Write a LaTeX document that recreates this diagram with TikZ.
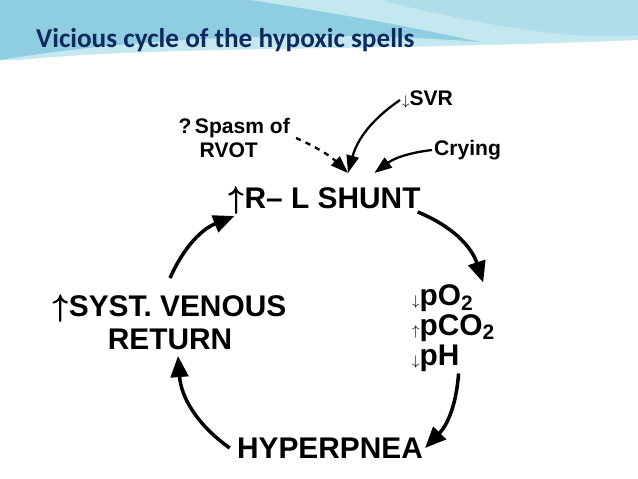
\documentclass[tikz,border=0pt]{standalone}
\usepackage{amsmath}
\usepackage{fontspec}
\setmainfont{Liberation Sans}
\newfontfamily\titlefont{Carlito}
\usetikzlibrary{arrows.meta}
\definecolor{navy}{HTML}{0D2A5C}
\definecolor{skyA}{HTML}{8FCDE0}
\definecolor{skyB}{HTML}{C4E8F0}
\begin{document}
\begin{tikzpicture}[x=0.02cm, y=-0.02cm,
    lbl/.style={font=\bfseries\fontsize{17}{19}\selectfont, align=center, inner sep=1pt},
    small/.style={font=\bfseries\fontsize{12}{14}\selectfont, align=center, inner sep=1pt},
    cyc/.style={line width=2pt, -{Triangle[length=12pt, width=10pt]}},
    cause/.style={line width=1.3pt, -{Triangle[length=10pt, width=7pt]}}
  ]
  \useasboundingbox (0,0) rectangle (638,479);
  % background band
  \fill[skyB] (0,0) rectangle (638,60);
  \fill[white] (0,62) .. controls (150,45) and (350,52) .. (638,40) -- (638,479) -- (0,479) -- cycle;
  \fill[skyA] (0,0) -- (0,60) .. controls (120,40) and (300,28) .. (480,42) .. controls (380,20) and (300,8) .. (250,0) -- cycle;
  \fill[skyA!70] (380,0) .. controls (500,30) and (580,40) .. (638,35) -- (638,0) -- cycle;
  \node[anchor=west, text=navy, font=\titlefont\bfseries\fontsize{15.5}{18}\selectfont] (title) at (30,40) {Vicious cycle of the hypoxic spells};

  % cycle
  \node[lbl] (shunt) at (325,200) {$\pmb{\uparrow}$R-- L SHUNT};
  \node[lbl, align=left, anchor=west] (gases) at (410,328) {\fontsize{8}{10}\selectfont$\downarrow$\fontsize{17}{19}\selectfont pO\textsubscript{2}\\[-2pt]\fontsize{8}{10}\selectfont$\uparrow$\fontsize{17}{19}\selectfont pCO\textsubscript{2}\\[-2pt]\fontsize{8}{10}\selectfont$\downarrow$\fontsize{17}{19}\selectfont pH};
  \node[lbl] (hyper) at (330,448) {HYPERPNEA};
  \node[lbl] (venous) at (170,322) {$\pmb{\uparrow}$SYST. VENOUS\\RETURN};
  \coordinate (vbot) at (178,356);

  % causes
  \node[small, align=left, anchor=east] (spasm) at (292,138) {?\,Spasm of\\\quad RVOT};
  \node[small, anchor=west] (svr) at (400,100) {\fontsize{8}{10}\selectfont$\downarrow$\fontsize{12}{14}\selectfont SVR};
  \node[small, anchor=west] (cry) at (432,150) {Crying};
  \coordinate (tip) at (348,173);

  \draw[cyc] (shunt.east) ++(-5,12) to[bend left=25] ([xshift=-8pt]gases.north east);
  \draw[cyc] ([xshift=-22pt]gases.south east) to[bend left=20] (hyper.east);
  \draw[cyc] ([xshift=-3pt]hyper.west) to[bend left=25] (vbot);
  \draw[cyc] ([xshift=0pt,yshift=8pt]venous.north) to[bend left=22] ([xshift=4pt]shunt.south west);
  \draw[cause, dashed] (spasm.east) ++(4,0) to[bend left=10] (tip);
  \draw[cause] (svr.west) to[bend right=20] (tip);
  \draw[cause] (cry.west) to[bend right=15] ([xshift=15pt]tip);
\end{tikzpicture}
\end{document}
